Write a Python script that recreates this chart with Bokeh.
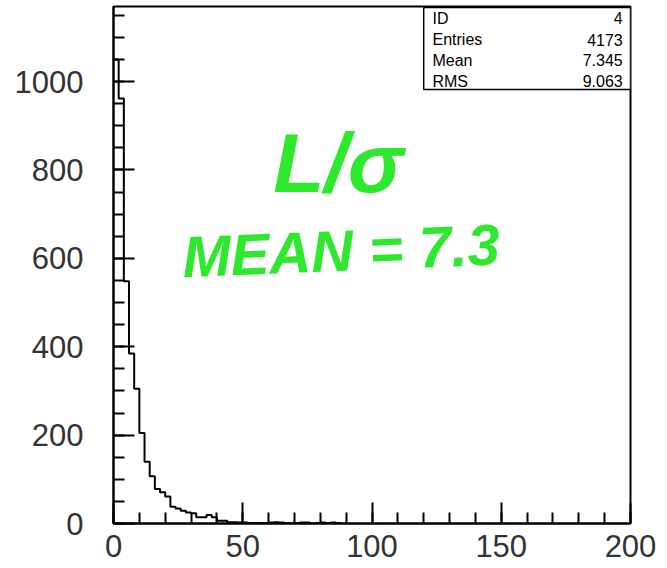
from bokeh.plotting import figure
from bokeh.models import Range1d, SingleIntervalTicker, Label
from bokeh.embed import file_html
from bokeh.resources import INLINE

# Histogram ID 4 : L/sigma, bin width 2, range 0..200
bin_width = 2
counts = [1050, 962, 548, 385, 305, 205, 140, 107, 78, 71,
          61, 38, 34, 29, 25, 23, 14, 14, 19, 14,
          6, 6, 3, 3, 2, 2, 1, 1, 1, 1,
          2, 3, 2, 1, 0, 1, 2, 2, 0, 1,
          2, 1, 2, 1]
x_ticks_interval = 50
y_ticks_interval = 200
stats_names = ["ID", "Entries", "Mean", "RMS"]
stats_values = ["4", "4173", "7.345", "9.063"]
note_line1 = "L/σ"
note_line2 = "MEAN = 7.3"

edges = [i * bin_width for i in range(len(counts) + 1)]
ys = counts + [0]

p = figure(width=667, height=568, output_backend="svg", toolbar_location=None,
           x_range=Range1d(0, 200), y_range=Range1d(0, 1170),
           min_border_left=113, min_border_right=37,
           min_border_top=6, min_border_bottom=45)
p.background_fill_color = "white"
p.border_fill_color = "white"
p.outline_line_color = "black"
p.outline_line_width = 2
p.xgrid.visible = False
p.ygrid.visible = False

font = "Liberation Sans"
for ax, tk in ((p.xaxis, SingleIntervalTicker(interval=x_ticks_interval, num_minor_ticks=5)),
               (p.yaxis, SingleIntervalTicker(interval=y_ticks_interval, num_minor_ticks=4))):
    ax.ticker = tk
    ax.axis_line_color = "black"
    ax.axis_line_width = 2
    ax.major_tick_in = 21
    ax.major_tick_out = 0
    ax.minor_tick_in = 11
    ax.minor_tick_out = 0
    ax.major_tick_line_color = "black"
    ax.major_tick_line_width = 2
    ax.minor_tick_line_color = "black"
    ax.minor_tick_line_width = 2
    ax.major_label_text_font = font
    ax.major_label_text_font_size = "31px"
    ax.major_label_text_color = "#333333"
p.xaxis.major_label_standoff = 11
p.yaxis.major_label_standoff = 30

p.step(x=edges, y=ys, mode="after", line_color="black", line_width=2)

# statistics box
p.quad(left=[120], right=[200], bottom=[982], top=[1168],
       fill_color="white", line_color="black", line_width=1.5)
rows_y = [1143, 1095, 1048, 1001]
for name, val, yy in zip(stats_names, stats_values, rows_y):
    p.add_layout(Label(x=123.4, y=yy, text=name, text_font=font,
                       text_font_size="16px", text_baseline="middle",
                       text_align="left", text_color="black"))
    p.add_layout(Label(x=197, y=yy, text=val, text_font=font,
                       text_font_size="16px", text_baseline="middle",
                       text_align="right", text_color="black"))

# handwritten green annotation
p.add_layout(Label(x=87, y=815, text=note_line1, text_font=font,
                   text_font_size="84px", text_font_style="bold italic",
                   text_align="center", text_baseline="middle",
                   text_color="#2ee82e"))
p.add_layout(Label(x=88, y=618, text=note_line2, text_font=font,
                   text_font_size="58px", text_font_style="bold italic",
                   text_align="center", text_baseline="middle",
                   text_color="#2ee82e", angle=0.04))

open("out.html", "w").write(file_html(p, INLINE))
